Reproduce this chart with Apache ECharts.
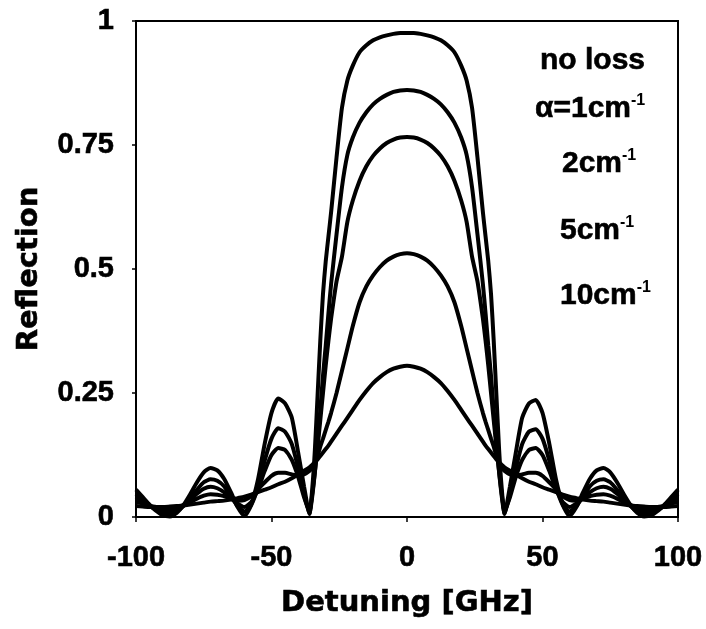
<!DOCTYPE html>
<html>
<head>
<meta charset="utf-8">
<title>Reflection vs detuning</title>
<script src="https://cdn.jsdelivr.net/npm/echarts@6/dist/echarts.min.js"></script>
<style>
    html, body { margin: 0; padding: 0; background: #fff; }
    #chart { width: 706px; height: 629px; }
</style>
</head>
<body>
<div id="chart"></div>
<script>
    // detuning in GHz, denser sampling around the band edges
    const detuning = [-100, -97.5, -95, -92.5, -90, -87.5, -85, -82.5, -80, -77.5,
        -75, -72.5, -70, -67.5, -65, -62.5, -60, -57.5, -55, -52.5,
        -50, -47.5, -45, -42.5, -40, -38, -36, -35, -34, -33,
        -32, -31, -30, -29, -28, -26, -24, -22, -20, -17.5,
        -15, -12.5, -10, -7.5, -5, -2.5, 0,
        2.5, 5, 7.5, 10, 12.5, 15, 17.5, 20, 22, 24,
        26, 28, 29, 30, 31, 32, 33, 34, 35, 36,
        38, 40, 42.5, 45, 47.5, 50, 52.5, 55, 57.5, 60,
        62.5, 65, 67.5, 70, 72.5, 75, 77.5, 80, 82.5, 85,
        87.5, 90, 92.5, 95, 97.5, 100];

    const noLoss = [0.055, 0.04, 0.025, 0.012, 0.003, 0.001, 0.008, 0.024, 0.046, 0.07,
        0.09, 0.099, 0.094, 0.077, 0.05, 0.02, 0.002, 0.024, 0.075, 0.148,
        0.21, 0.239, 0.229, 0.2, 0.125, 0.062, 0.006, 0.055, 0.135, 0.245,
        0.355, 0.45, 0.515, 0.565, 0.615, 0.725, 0.825, 0.88, 0.91, 0.937,
        0.951, 0.961, 0.967, 0.971, 0.974, 0.976, 0.976,
        0.976, 0.974, 0.971, 0.967, 0.961, 0.951, 0.937, 0.91, 0.88, 0.825,
        0.725, 0.615, 0.565, 0.515, 0.45, 0.355, 0.245, 0.135, 0.055, 0.006,
        0.062, 0.125, 0.2, 0.229, 0.236, 0.21, 0.148, 0.075, 0.024, 0.002,
        0.02, 0.05, 0.077, 0.094, 0.099, 0.09, 0.07, 0.046, 0.024, 0.008,
        0.001, 0.003, 0.012, 0.025, 0.04, 0.055];

    const loss1 = [0.046, 0.034, 0.023, 0.014, 0.008, 0.007, 0.011, 0.022, 0.038, 0.055,
        0.07, 0.076, 0.073, 0.062, 0.042, 0.022, 0.011, 0.024, 0.06, 0.114,
        0.158, 0.179, 0.172, 0.147, 0.095, 0.045, 0.007, 0.04, 0.09, 0.15,
        0.215, 0.285, 0.345, 0.41, 0.47, 0.57, 0.665, 0.73, 0.765, 0.795,
        0.816, 0.832, 0.843, 0.851, 0.857, 0.86, 0.861,
        0.86, 0.857, 0.851, 0.843, 0.832, 0.816, 0.795, 0.765, 0.73, 0.665,
        0.57, 0.47, 0.41, 0.345, 0.285, 0.215, 0.15, 0.09, 0.04, 0.007,
        0.045, 0.095, 0.147, 0.172, 0.177, 0.158, 0.114, 0.06, 0.024, 0.011,
        0.022, 0.042, 0.062, 0.073, 0.076, 0.07, 0.055, 0.038, 0.022, 0.011,
        0.007, 0.008, 0.014, 0.023, 0.034, 0.046];

    const loss2 = [0.04, 0.03, 0.022, 0.016, 0.012, 0.012, 0.015, 0.023, 0.035, 0.047,
        0.057, 0.061, 0.058, 0.05, 0.038, 0.027, 0.02, 0.03, 0.056, 0.093,
        0.125, 0.139, 0.135, 0.115, 0.078, 0.04, 0.012, 0.045, 0.09, 0.14,
        0.195, 0.25, 0.305, 0.355, 0.4, 0.475, 0.525, 0.595, 0.638, 0.678,
        0.707, 0.728, 0.743, 0.754, 0.761, 0.765, 0.766,
        0.765, 0.761, 0.754, 0.743, 0.728, 0.707, 0.678, 0.638, 0.595, 0.525,
        0.475, 0.4, 0.355, 0.305, 0.25, 0.195, 0.14, 0.09, 0.045, 0.012,
        0.04, 0.078, 0.115, 0.135, 0.139, 0.125, 0.093, 0.056, 0.03, 0.02,
        0.027, 0.038, 0.05, 0.058, 0.061, 0.057, 0.047, 0.035, 0.023, 0.015,
        0.012, 0.012, 0.016, 0.022, 0.03, 0.04];

    const loss5 = [0.031, 0.027, 0.023, 0.02, 0.018, 0.018, 0.02, 0.024, 0.03, 0.037,
        0.043, 0.046, 0.045, 0.042, 0.037, 0.033, 0.034, 0.042, 0.056, 0.07,
        0.083, 0.089, 0.089, 0.086, 0.084, 0.086, 0.093, 0.099, 0.108, 0.123,
        0.142, 0.158, 0.175, 0.192, 0.21, 0.25, 0.295, 0.34, 0.385, 0.433,
        0.465, 0.487, 0.504, 0.517, 0.525, 0.53, 0.532,
        0.53, 0.525, 0.517, 0.504, 0.487, 0.465, 0.433, 0.385, 0.34, 0.295,
        0.25, 0.21, 0.192, 0.175, 0.158, 0.142, 0.123, 0.108, 0.099, 0.093,
        0.086, 0.084, 0.086, 0.089, 0.089, 0.083, 0.07, 0.056, 0.042, 0.034,
        0.033, 0.037, 0.042, 0.045, 0.046, 0.043, 0.037, 0.03, 0.024, 0.02,
        0.018, 0.018, 0.02, 0.023, 0.027, 0.031];

    const loss10 = [0.022, 0.021, 0.02, 0.02, 0.02, 0.021, 0.022, 0.023, 0.025, 0.027,
        0.029, 0.031, 0.032, 0.033, 0.035, 0.038, 0.041, 0.045, 0.05, 0.055,
        0.06, 0.066, 0.071, 0.078, 0.086, 0.093, 0.1, 0.105, 0.11, 0.116,
        0.123, 0.13, 0.137, 0.144, 0.152, 0.168, 0.184, 0.2, 0.216, 0.236,
        0.254, 0.27, 0.282, 0.292, 0.299, 0.303, 0.305,
        0.303, 0.299, 0.292, 0.282, 0.27, 0.254, 0.236, 0.216, 0.2, 0.184,
        0.168, 0.152, 0.144, 0.137, 0.13, 0.123, 0.116, 0.11, 0.105, 0.1,
        0.093, 0.086, 0.078, 0.071, 0.066, 0.06, 0.055, 0.05, 0.045, 0.041,
        0.038, 0.035, 0.033, 0.032, 0.031, 0.029, 0.027, 0.025, 0.023, 0.022,
        0.021, 0.02, 0.02, 0.02, 0.021, 0.022];

    const curves = [noLoss, loss1, loss2, loss5, loss10];
    const curveLabels = ['no loss', 'α=1cm', '2cm', '5cm', '10cm'];
    const curveSup = ['', '-1', '-1', '-1', '-1'];

    // where each curve label sits (left edge, vertical centre), in px
    const labelPos = [[540, 61], [535, 109], [562, 164], [560, 231], [560, 296]];

    const tickFont = {
        color: '#000',
        fontFamily: 'Liberation Sans',
        fontWeight: 'bold',
        fontSize: 29,
        textBorderColor: '#000',
        textBorderWidth: 0.6
    };
    const nameFont = {
        color: '#000',
        fontFamily: 'DejaVu Sans',
        fontWeight: 'bold',
        fontSize: 29,
        textBorderColor: '#000',
        textBorderWidth: 0.6
    };

    const chart = echarts.init(document.getElementById('chart'), null, {renderer: 'canvas'});

    const option = {
        backgroundColor: '#fff',
        animation: false,
        grid: {
            left: 136, right: 28, top: 21, bottom: 112,
            show: true, borderColor: '#000', borderWidth: 2
        },
        xAxis: {
            type: 'value',
            min: -100, max: 100, interval: 50,
            name: 'Detuning [GHz]',
            nameLocation: 'middle',
            nameGap: 72,
            nameTextStyle: nameFont,
            axisLine: {show: true, onZero: false, lineStyle: {color: '#000', width: 2}},
            axisTick: {show: true, length: 5, lineStyle: {color: '#000', width: 1.5}},
            splitLine: {show: false},
            axisLabel: Object.assign({margin: 26}, tickFont)
        },
        yAxis: {
            type: 'value',
            min: 0, max: 1, interval: 0.25,
            name: 'Reflection',
            nameLocation: 'middle',
            nameRotate: 90,
            nameGap: 92,
            nameTextStyle: nameFont,
            axisLine: {show: true, onZero: false, lineStyle: {color: '#000', width: 2}},
            axisTick: {show: true, length: 4, lineStyle: {color: '#000', width: 1.5}},
            splitLine: {show: false},
            axisLabel: Object.assign({margin: 22}, tickFont)
        },
        graphic: curveLabels.map((t, i) => ({
            type: 'text',
            x: labelPos[i][0],
            y: labelPos[i][1],
            style: {
                text: curveSup[i] ? '{m|' + t + '}{s|' + curveSup[i] + '}' : '{m|' + t + '}',
                verticalAlign: 'middle',
                rich: {
                    m: {
                        fontFamily: 'Liberation Sans', fontWeight: 'bold', fontSize: 30,
                        fill: '#000', stroke: '#000', lineWidth: 0.6, lineHeight: 32
                    },
                    s: {
                        fontFamily: 'Liberation Sans', fontWeight: 'bold', fontSize: 16,
                        fill: '#000', verticalAlign: 'top', lineHeight: 16
                    }
                }
            }
        })),
        series: curves.map((arr, i) => ({
            name: curveLabels[i],
            type: 'line',
            data: detuning.map((x, j) => [x, arr[j]]),
            showSymbol: false,
            symbol: 'none',
            smooth: 0.2,
            lineStyle: {color: '#000', width: 4},
            z: 2
        }))
    };

    chart.setOption(option);
</script>
</body>
</html>
